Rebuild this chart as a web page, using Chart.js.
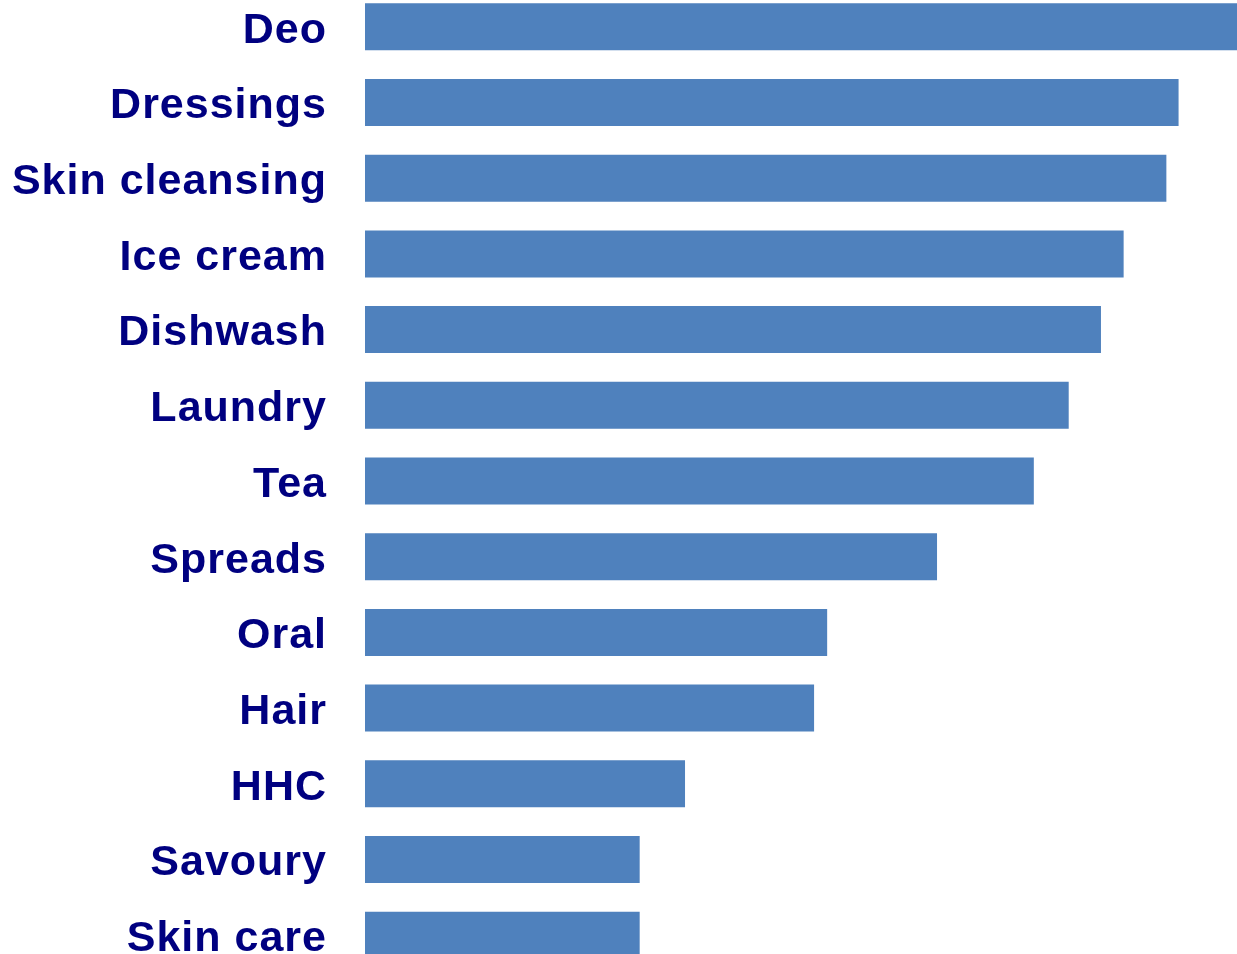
<!DOCTYPE html>
<html>
<head>
<meta charset="utf-8">
<title>Category ranking</title>
<script src="https://cdn.jsdelivr.net/npm/chart.js@4/dist/chart.umd.min.js"></script>
<style>
  html, body { margin: 0; padding: 0; background: #ffffff; overflow: hidden; }
  .chart-frame { position: relative; width: 1237px; height: 954px; overflow: hidden; }
  /* category band runs a little past the top and bottom edges, as in the source */
  #rank-chart { position: absolute; left: 0; top: -11px; }
</style>
</head>
<body>
<div class="chart-frame">
  <canvas id="rank-chart" width="1237" height="984"></canvas>
</div>
<script>
// ---- Data -----------------------------------------------------
var categories = ['Deo', 'Dressings', 'Skin cleansing', 'Ice cream', 'Dishwash', 'Laundry',
  'Tea', 'Spreads', 'Oral', 'Hair', 'HHC', 'Savoury', 'Skin care'];
var values = [100, 93.3, 91.9, 87.0, 84.4, 80.7, 76.7, 65.6, 53.0, 51.5, 36.7, 31.5, 31.5];
var axisMax = 100;

(function () {
  'use strict';

  var BAR_BLUE = '#4f81bd';
  var LABEL_NAVY = '#000080';

  // ---- Slightly wider label lettering ---------------------------
  var labelSpacing = {
    id: 'labelSpacing',
    beforeDraw: function (chart) {
      chart.ctx.letterSpacing = '1px';
    }
  };

  var ctx = document.getElementById('rank-chart').getContext('2d');
  new Chart(ctx, {
    type: 'bar',
    data: {
      labels: categories,
      datasets: [{
        data: values,
        backgroundColor: BAR_BLUE,
        borderWidth: 0,
        barPercentage: 1,
        categoryPercentage: 0.621
      }]
    },
    options: {
      indexAxis: 'y',
      responsive: false,
      animation: false,
      devicePixelRatio: 1,
      layout: { padding: 0 },
      plugins: {
        legend: { display: false },
        tooltip: { enabled: false }
      },
      scales: {
        x: {
          display: false,
          min: 0,
          max: axisMax
        },
        y: {
          grid: { display: false, drawTicks: false },
          border: { display: false },
          ticks: {
            color: LABEL_NAVY,
            padding: 38,
            labelOffset: 4,
            font: { family: "'Liberation Sans', Arial, sans-serif", size: 43, weight: 'bold' }
          },
          // bars start at x=365; no extra room above/below for label overflow
          afterFit: function (scale) {
            scale.width = 365;
            scale.paddingTop = 0;
            scale.paddingBottom = 0;
          }
        }
      }
    },
    plugins: [labelSpacing]
  });
})();
</script>
</body>
</html>
